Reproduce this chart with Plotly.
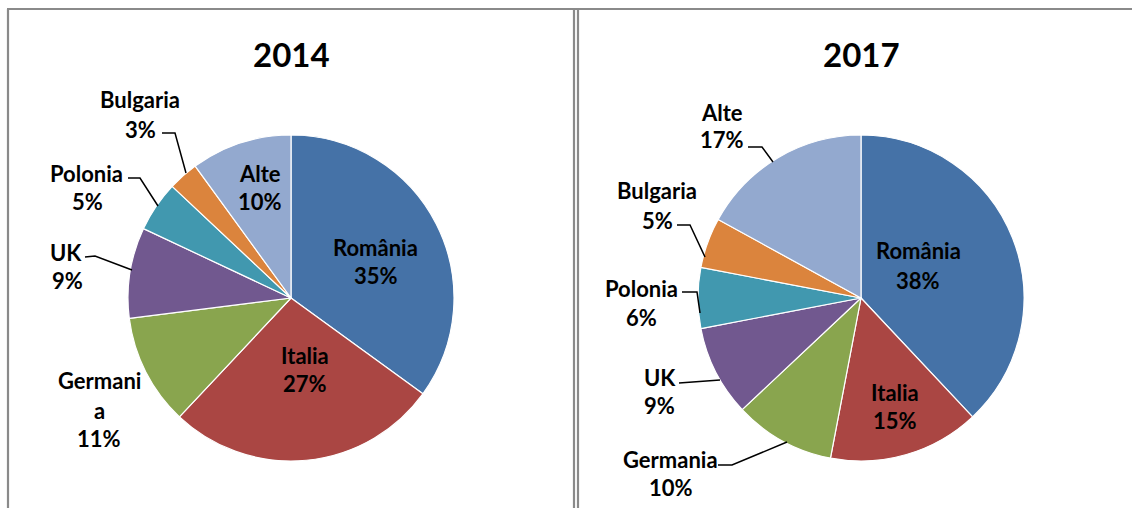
import plotly.graph_objects as go

W, H = 1132, 508

# ---- data ----
categories = ["România", "Italia", "Germania", "UK", "Polonia", "Bulgaria", "Alte"]
values_2014 = [35, 27, 11, 9, 5, 3, 10]
values_2017 = [38, 15, 10, 9, 6, 5, 17]
colors = ["#4572A7", "#AA4643", "#89A54E", "#71588F", "#4198AF", "#DB843D", "#93A9CF"]
titles = ["2014", "2017"]

FONT = "Lato"


def px(x):
    return x / W


def py(y):
    return 1 - y / H


fig = go.Figure()

# pie domains (pixel boxes)
pie_boxes = [(128, 454, 135, 461), (698, 1024, 135, 461)]
for vals, (x0, x1, y0, y1) in zip([values_2014, values_2017], pie_boxes):
    fig.add_trace(go.Pie(
        labels=categories, values=vals, sort=False, direction="clockwise",
        rotation=0, textinfo="none", hoverinfo="label+percent",
        marker=dict(colors=colors, line=dict(color="white", width=1.2)),
        domain=dict(x=[px(x0), px(x1)], y=[py(y1), py(y0)]),
        showlegend=False,
    ))

annotations = []
# titles
for t, cx in zip(titles, [291, 861]):
    annotations.append(dict(text=f"<b>{t}</b>", x=px(cx), y=py(54), xref="paper", yref="paper",
                            showarrow=False, font=dict(family=FONT, size=33, color="black"),
                            xanchor="center", yanchor="middle"))

pos_2014 = {
    "România": [(376, 247), (376, 275)],
    "Italia": [(305, 355), (305, 383)],
    "Germania": [(99, 380), (99, 410), (99, 438)],
    "UK": [(66, 252), (67, 280)],
    "Polonia": [(86, 173), (87, 202)],
    "Bulgaria": [(140, 100), (140, 129)],
    "Alte": [(260, 173), (260, 202)],
}
pos_2017 = {
    "România": [(918, 250), (918, 280)],
    "Italia": [(895, 392), (895, 420)],
    "Germania": [(670, 459), (671, 487)],
    "UK": [(660, 377), (659, 405)],
    "Polonia": [(641, 288), (641, 317)],
    "Bulgaria": [(657, 190), (657, 220)],
    "Alte": [(722, 112), (722, 140)],
}

for vals, pos in [(values_2014, pos_2014), (values_2017, pos_2017)]:
    for cat, v in zip(categories, vals):
        pts = pos[cat]
        if len(pts) == 3:
            lines = [cat[:-1], cat[-1], f"{v}%"]
        else:
            lines = [cat, f"{v}%"]
        for txt, (x, y) in zip(lines, pts):
            annotations.append(dict(text=f"<b>{txt}</b>", x=px(x), y=py(y), xref="paper", yref="paper",
                                    showarrow=False, font=dict(family=FONT, size=22, color="black"),
                                    xanchor="center", yanchor="middle"))

# leader lines
leaders = [
    [(162, 133), (175, 133), (186, 173)],
    [(128, 178), (140, 178), (158, 206)],
    [(85, 257), (95, 256), (132, 270)],
    [(748, 147), (762, 147), (773, 162)],
    [(677, 225), (690, 225), (705, 257)],
    [(682, 292), (697, 292), (700, 313)],
    [(679, 383), (720, 380)],
    [(718, 465), (732, 465), (787, 442)],
]
shapes = []
for pts in leaders:
    path = "M " + " L ".join(f"{px(x)},{py(y)}" for x, y in pts)
    shapes.append(dict(type="path", path=path, xref="paper", yref="paper",
                       line=dict(color="black", width=1.5)))

# frame lines
border = "#8a8a8a"
for (x0, y0, x1, y1) in [(7, 9, 1132, 9), (8, 9, 8, 508), (574, 9, 574, 508), (578, 9, 578, 508)]:
    shapes.append(dict(type="line", x0=px(x0), y0=py(y0), x1=px(x1), y1=py(y1),
                       xref="paper", yref="paper", line=dict(color=border, width=2.2)))

fig.update_layout(
    width=W, height=H, margin=dict(l=0, r=0, t=0, b=0),
    paper_bgcolor="white", plot_bgcolor="white",
    annotations=annotations, shapes=shapes,
    font=dict(family=FONT),
)

fig.write_html("out.html", config={"displayModeBar": False},
               post_script="document.body.style.margin='0px';document.body.style.overflow='hidden';")
